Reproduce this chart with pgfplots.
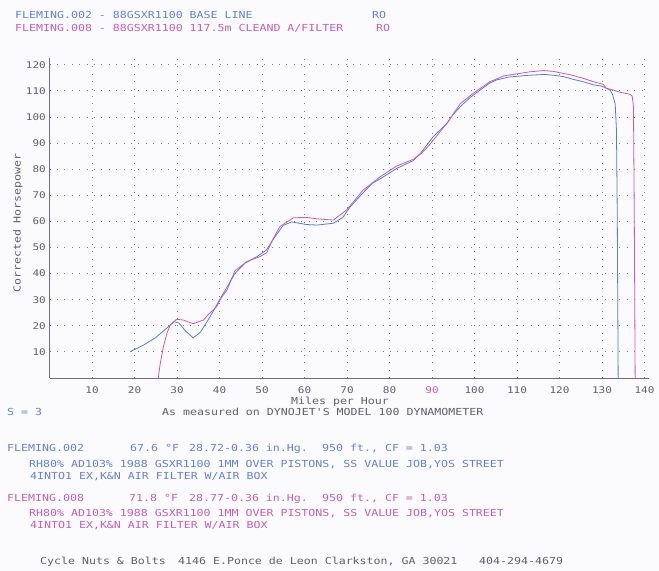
\documentclass[border=0pt]{standalone}
\usepackage{fontspec}
\usepackage{pgfplots}
\pgfplotsset{compat=1.18}
\newfontfamily\dm[FakeStretch=1.2]{DejaVu Sans Mono}
\definecolor{bl}{RGB}{85,125,205}
\definecolor{pk}{RGB}{200,90,190}
\definecolor{bltext}{RGB}{100,130,205}
\definecolor{pktext}{RGB}{195,95,180}
\definecolor{txt}{RGB}{95,95,110}
\definecolor{gridc}{RGB}{125,125,140}
\definecolor{axisc}{RGB}{115,105,125}
\definecolor{bg}{RGB}{251,250,252}
\newcommand{\pf}{\dm\fontsize{9.7}{12}\selectfont}
\begin{document}
\begin{tikzpicture}[x=1bp,y=1bp]
\fill[bg] (0,0) rectangle (659,-571);
\tikzset{t/.style={anchor=base west,inner sep=0,font=\pf}}
% header
\node[t,text=bltext] at (15,-19) {FLEMING.002 - 88GSXR1100 BASE LINE};
\node[t,text=bltext] at (372,-19) {RO};
\node[t,text=pktext] at (15,-32) {FLEMING.008 - 88GSXR1100 117.5m CLEAND A/FILTER};
\node[t,text=pktext] at (376,-32) {RO};
% axis labels
\node[rotate=90,anchor=center,inner sep=0,font=\pf,text=txt] at (18,-223) {Corrected Horsepower};
\node[anchor=base,inner sep=0,font=\pf,text=txt] at (340,-404) {Miles per Hour};
\node[t,text=bltext] at (7,-415) {S = 3};
\node[t,text=txt] at (162,-415) {As measured on DYNOJET'S MODEL 100 DYNAMOMETER};
% run info
\node[t,text=bltext] at (7,-451) {FLEMING.002};
\node[t,text=bltext] at (130,-451) {67.6 °F};
\node[t,text=bltext] at (189,-451) {28.72-0.36 in.Hg.};
\node[t,text=bltext] at (322,-451) {950 ft., CF = 1.03};
\node[t,text=bltext] at (29,-467) {RH80\% AD103\% 1988 GSXR1100 1MM OVER PISTONS, SS VALUE JOB,YOS STREET};
\node[t,text=bltext] at (30,-479) {4INTO1 EX,K\&N AIR FILTER W/AIR BOX};
\node[t,text=pktext] at (7,-501) {FLEMING.008};
\node[t,text=pktext] at (129,-501) {71.8 °F};
\node[t,text=pktext] at (189,-501) {28.77-0.36 in.Hg.};
\node[t,text=pktext] at (322,-501) {950 ft., CF = 1.03};
\node[t,text=pktext] at (29,-516) {RH80\% AD103\% 1988 GSXR1100 1MM OVER PISTONS, SS VALUE JOB,YOS STREET};
\node[t,text=pktext] at (30,-528) {4INTO1 EX,K\&N AIR FILTER W/AIR BOX};
\node[t,text=txt] at (40,-564) {Cycle Nuts \& Bolts};
\node[t,text=txt] at (178,-564) {4146 E.Ponce de Leon Clarkston, GA 30021};
\node[t,text=txt] at (479,-564) {404-294-4679};
\begin{axis}[
  at={(49.5bp,-378bp)}, anchor=south west,
  scale only axis, width=599.25bp, height=320bp,
  xmin=0, xmax=141, ymin=0, ymax=122.6,
  axis x line=bottom, axis y line=left,
  axis line style={-, draw=axisc, line width=0.8bp},
  xtick={10,20,...,140}, ytick={10,20,...,120},
  xticklabels={10,20,30,40,50,60,70,80,\textcolor{pktext}{90},100,110,120,130,140},
  major tick length=0pt,
  grid=major,
  grid style={draw=gridc, line width=0.9bp, dash pattern=on 0.9bp off 6.5bp},
  /pgf/number format/assume math mode=true,
  tick label style={font=\dm\fontsize{9.2}{11}\selectfont, text=txt, inner sep=0pt},
  xticklabel style={anchor=north, yshift=-8bp},
  yticklabel style={anchor=east, xshift=-3.5bp},
  clip=false,
]
\addplot[bl, line width=0.8bp] coordinates {
(19,10.1) (22,12.5) (25,15.5) (27.5,19) (29.3,21.6) (30.5,21) (32,18) (33.8,15.4) (35.5,17.5) (37.8,23.5) (40,29.9) (42,35.5) (43.6,40) (46,44) (48.8,46.5) (51,49) (53,54) (55,58.5) (57,59.8) (60.5,58.8) (63,58.6) (66.8,59.3) (69,61.5) (70.7,65.5) (73.8,71) (75.9,74.5) (78,76.5) (81.7,80.3) (85.6,83.3) (87.5,86.5) (90.3,92.5) (93.5,97.5) (95,101) (97,104.5) (99,107.5) (101.3,110.3) (103.6,113) (105.2,114.2) (108,115.3) (110.7,115.7) (113,116) (116.5,116.3) (118.5,116) (120.9,115.5) (123,114.5) (125.6,113.5) (128,112.3) (130,111.8) (131.9,110.3) (132.5,108.5) (133.1,105) (133.4,95) (133.6,60) (133.8,0)
};
\addplot[pk, line width=0.8bp] coordinates {
(25.6,0) (26,5) (26.8,12) (27.6,17) (28.4,20.3) (29.9,22.5) (31.5,22.2) (33.8,20.8) (36.2,22.2) (37.5,24.5) (39.3,27.3) (40.5,31) (41.7,33.5) (43.6,41) (46.4,44.6) (49.5,46.5) (51.1,48) (52.5,53) (54.2,58) (57.4,61.4) (60.5,61.5) (63,61) (66.8,60.5) (69.9,64.4) (71.5,67.5) (73.8,72) (77.8,77.1) (81.7,81.2) (85.6,83.8) (87.5,86) (89.5,89.5) (93.5,97.6) (94.5,100) (96.6,105) (99.7,109.1) (103.6,113.5) (107,115.8) (110.7,116.7) (113,117.3) (116.2,117.8) (118.5,117.5) (120.9,116.7) (123,116) (125.6,114.8) (128,113.5) (130.3,112.5) (131,111) (132.7,110.3) (134.2,109.5) (136.6,108.7) (137.1,108) (137.4,104) (137.6,60) (137.8,0)
};
\end{axis}
\end{tikzpicture}
\end{document}
